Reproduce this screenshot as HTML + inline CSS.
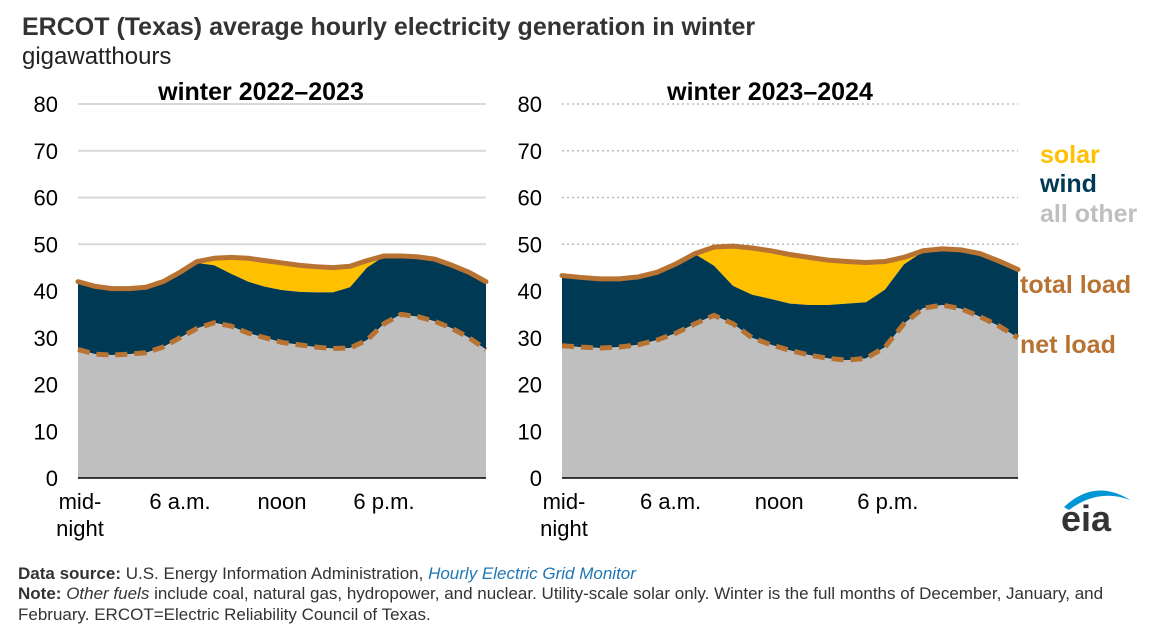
<!DOCTYPE html>
<html><head><meta charset="utf-8"><style>
body{margin:0;background:#fff;font-family:"Liberation Sans",Arial,sans-serif;}
svg text{font-family:"Liberation Sans",Arial,sans-serif;}
</style></head><body>
<svg id="c" width="1156" height="631" viewBox="0 0 1156 631">
<text x="22" y="35" font-size="25" font-weight="bold" fill="#333">ERCOT (Texas) average hourly electricity generation in winter</text>
<text x="22" y="64" font-size="24" fill="#222">gigawatthours</text>
<text x="261" y="100" font-size="25" font-weight="bold" text-anchor="middle" fill="#000">winter 2022–2023</text>
<text x="770" y="100" font-size="25" font-weight="bold" text-anchor="middle" fill="#000">winter 2023–2024</text>
<g id="L"></g><g id="R"></g>
<text x="1040" y="163" font-size="25" font-weight="bold" fill="#ffc000">solar</text>
<text x="1040" y="192" font-size="25" font-weight="bold" fill="#003953">wind</text>
<text x="1040" y="222" font-size="25" font-weight="bold" fill="#bfbfbf">all other</text>
<text x="1020" y="293" font-size="25" font-weight="bold" fill="#b87333">total load</text>
<text x="1020" y="353" font-size="25" font-weight="bold" fill="#b87333">net load</text>
<g>
<path d="M1064 507 Q1095 478 1130 500 Q1098 488 1069 510 Z" fill="#0096d6"/>
<text x="1061" y="531" font-size="36" font-weight="bold" fill="#333">eia</text>
</g>
<text x="18" y="579" font-size="17" fill="#333"><tspan font-weight="bold">Data source:</tspan> U.S. Energy Information Administration, <tspan font-style="italic" fill="#1f77b4">Hourly Electric Grid Monitor</tspan></text>
<text x="18" y="599" font-size="17" fill="#333"><tspan font-weight="bold">Note:</tspan> <tspan font-style="italic">Other fuels</tspan> include coal, natural gas, hydropower, and nuclear. Utility-scale solar only. Winter is the full months of December, January, and</text>
<text x="18" y="620" font-size="17" fill="#333">February. ERCOT=Electric Reliability Council of Texas.</text>
</svg>
<script>
const hours=[0,1,2,3,4,5,6,7,8,9,10,11,12,13,14,15,16,17,18,19,20,21,22,23,24];
const yTicks=[0,10,20,30,40,50,60,70,80];
const xTickHours=[0,6,12,18];
const xTickLabels=[["mid-","night"],["6 a.m."],["noon"],["6 p.m."]];
const otherL=[27.5,26.5,26.3,26.5,26.8,28,30,32,33.2,32.5,31,30,29,28.5,28,27.7,27.8,29.5,33,35,34.5,33.5,32,30,27.5];
const windL=[14.5,14.5,14.2,14,14,14,14,14,12.3,11.2,11,10.9,11.2,11.3,11.7,12,13,15.5,14.4,12.5,12.8,13.3,13.5,14,14.5];
const solarL=[0,0,0,0,0,0,0,0.3,1.5,3.5,5,5.6,5.8,5.7,5.5,5.3,4.5,1.5,0.1,0,0,0,0,0,0];
const otherR=[28.3,28,27.8,28,28.5,29.5,31,33,34.8,33,30,28.5,27.3,26.3,25.6,25.2,25.6,28,33,36.3,37,36.2,34.5,32.5,30];
const windR=[15,14.9,14.8,14.6,14.5,14.5,14.8,14.9,10.6,8.1,9.2,9.8,10,10.7,11.4,12.1,12,12.3,12.7,12.1,12,12.6,13.5,13.9,14.6];
const solarR=[0,0,0,0,0,0,0,0.1,4,8.5,10,10.3,10.5,10.2,9.6,9,8.5,6,1.5,0.2,0,0,0,0,0];
const NS="http://www.w3.org/2000/svg";
function mk(t,a,p){const e=document.createElementNS(NS,t);for(const k in a)e.setAttribute(k,a[k]);p.appendChild(e);return e;}
function panel(g,x0,x1,dotted,other,wind,solar,tag,labelPx){
  const X=h=>x0+(x1-x0)*h/24, Y=v=>478-v*374/80;
  yTicks.forEach(v=>{
    if(v>0){const l=mk('line',{x1:x0,x2:x1,y1:Y(v),y2:Y(v),stroke:dotted?'#bbb':'#d9d9d9','stroke-width':dotted?1.5:2,'stroke-dasharray':dotted?'2,3':'none'},g);
    
    }
    const t=mk('text',{x:x0-20,y:Y(v)+8,'font-size':22,'text-anchor':'end',fill:'#000'},g);t.textContent=v;
    
    
  });
  const s1=hours.map((h,i)=>other[i]), s2=hours.map((h,i)=>other[i]+wind[i]), s3=hours.map((h,i)=>other[i]+wind[i]+solar[i]);
  const area=(top,bot,col,name)=>{let d='M'+hours.map((h,i)=>X(h)+','+Y(top[i])).join('L');
    d+='L'+hours.slice().reverse().map((h)=>X(h)+','+Y(bot[h])).join('L')+'Z';
    const p=mk('path',{d:d,fill:col},g);
    
    };
  const zero=hours.map(()=>0);
  area(s3,s2,'#ffc000','solar-area-'+tag);
  area(s2,s1,'#003953','wind-area-'+tag);
  area(s1,zero,'#bfbfbf','other-area-'+tag);
  const line=(arr,dash,name)=>{const p=mk('path',{d:'M'+hours.map((h,i)=>X(h)+','+Y(arr[i])).join('L'),fill:'none',stroke:'#b87333','stroke-width':5,'stroke-dasharray':dash,'stroke-linejoin':'round','stroke-linecap':dash==='none'?'round':'butt'},g);
    
    };
  line(s1,'12,7','net-load-line-'+tag);
  line(s3,'none','total-load-line-'+tag);
  const ax=mk('line',{x1:x0,x2:x1,y1:478,y2:478,stroke:'#000','stroke-width':1.5},g);
  
  
  xTickHours.forEach((h,i)=>{xTickLabels[i].forEach((s,j)=>{
    const t=mk('text',{x:x0+labelPx*h+(i===0?2:0),y:509+j*27,'font-size':22,'text-anchor':'middle',fill:'#000'},g);t.textContent=s;
    
    });});
}
panel(document.getElementById('L'),78,486,false,otherL,windL,solarL,'2022',17);
panel(document.getElementById('R'),562,1018,true,otherR,windR,solarR,'2023',18.1);
</script>
</body></html>
